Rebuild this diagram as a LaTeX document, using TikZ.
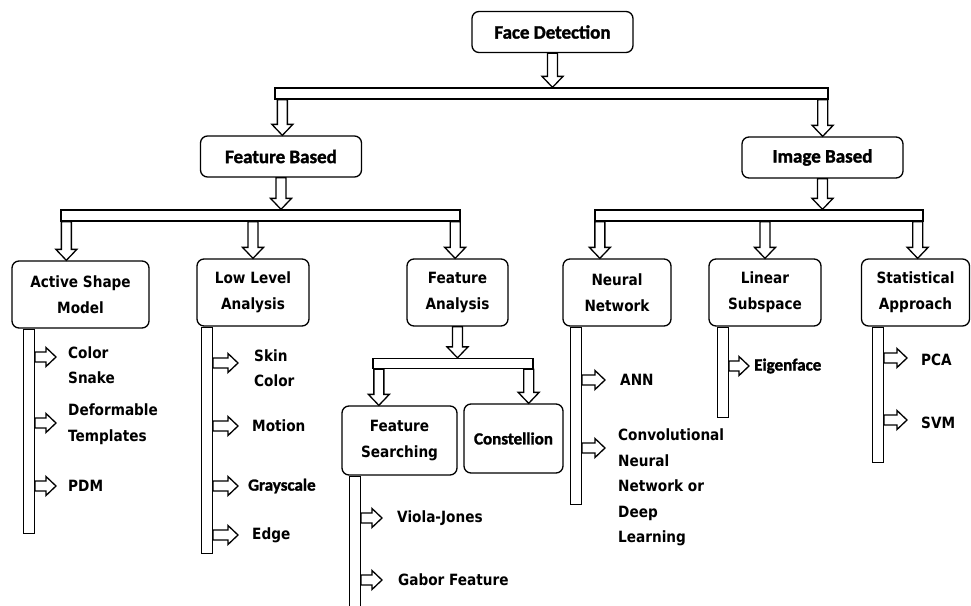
\documentclass[tikz,border=0pt]{standalone}
\usepackage{fontspec}
\newfontfamily\calb{Carlito}[BoldFeatures={FakeBold=1.6}]
\newfontfamily\tahb{DejaVu Sans}[FakeStretch=0.88]
\usetikzlibrary{calc}

\tikzset{
  box/.style={draw, line width=1.3pt, rounded corners=7pt, fill=white, align=center, inner sep=0pt},
  bigbox/.style={box, font=\calb\bfseries\fontsize{19}{26}\selectfont, minimum width=161pt, minimum height=41pt},
  subbox/.style={box, font=\tahb\bfseries\fontsize{15.5}{26}\selectfont, minimum height=67pt},
  hbar/.style={draw, line width=1.3pt, minimum height=11pt, inner sep=0pt},
  vbar/.style={draw, line width=1.3pt, minimum width=11pt, inner sep=0pt, anchor=north},
  item/.style={font=\tahb\bfseries\fontsize{15.5}{25.5}\selectfont, align=left, anchor=west, inner sep=0pt},
  citem/.style={item, font=\calb\bfseries\fontsize{17}{26}\selectfont},
  arrowshape/.style n args={3}{draw, line width=1.3pt, fill=white, to path={
    ($(\tikztostart)!#1!90:(\tikztotarget)$)
    -- ($(\tikztotarget)!#3!(\tikztostart)!#1!90:(\tikztotarget)$)
    -- ($(\tikztotarget)!#3!(\tikztostart)!#2!90:(\tikztotarget)$)
    -- (\tikztotarget)
    -- ($(\tikztotarget)!#3!(\tikztostart)!#2!-90:(\tikztotarget)$)
    -- ($(\tikztotarget)!#3!(\tikztostart)!#1!-90:(\tikztotarget)$)
    -- ($(\tikztostart)!#1!-90:(\tikztotarget)$) -- cycle}},
  blk/.style={arrowshape={5pt}{10.5pt}{11pt}},
  sblk/.style={arrowshape={5pt}{9.5pt}{10pt}}
}

\begin{document}
\begin{tikzpicture}[x=1pt, y=-1pt]
\useasboundingbox (0,0) rectangle (971,605);

% bars
\node[hbar, minimum width=553pt] (bar0) at (551.5,93.5) {};
\node[hbar, minimum width=399pt] (barL) at (260.5,215.5) {};
\node[hbar, minimum width=328pt] (barR) at (759,215.5) {};
\node[hbar, minimum width=160pt, minimum height=10pt] (barFA) at (453,363.5) {};

% boxes
\node[bigbox] (fd) at (552.5,32) {Face Detection};
\node[bigbox] (fb) at (281,156.5) {Feature Based};
\node[bigbox] (ib) at (822.5,157.5) {Image Based};
\node[subbox, minimum width=137pt] (asm) at (80.5,294.5) {Active Shape\\Model};
\node[subbox, minimum width=112pt] (lla) at (253,292.5) {Low Level\\Analysis};
\node[subbox, minimum width=101pt] (fa) at (457.5,292.5) {Feature\\Analysis};
\node[subbox, minimum width=108pt] (nn) at (617,292.5) {Neural\\Network};
\node[subbox, minimum width=112pt] (ls) at (765,292.5) {Linear\\Subspace};
\node[subbox, minimum width=108pt] (sa) at (915.5,292.5) {Statistical\\Approach};
\node[subbox, minimum width=115pt, minimum height=69pt] (fs) at (399.5,440.5) {Feature\\Searching};
\node[subbox, minimum width=99pt, minimum height=69pt, font=\calb\bfseries\fontsize{17}{26}\selectfont] (con) at (513.5,438.5) {Constellion};

% vertical bars
\node[vbar, minimum height=204pt] (asmbar) at ([xshift=17.5pt]asm.south west) {};
\node[vbar, minimum height=226pt] (llabar) at ([xshift=10.5pt]lla.south west) {};
\node[vbar, minimum height=135pt] (fsbar) at ([xshift=13.5pt]fs.south west) {};
\node[vbar, minimum height=177pt] (nnbar) at ([xshift=13.5pt]nn.south west) {};
\node[vbar, minimum height=90pt] (lsbar) at ([xshift=14.5pt]ls.south west) {};
\node[vbar, minimum height=135pt] (sabar) at ([xshift=17pt]sa.south west) {};

% arrow columns
\coordinate (c1) at ([xshift=8pt]bar0.south west);
\coordinate (c2) at ([xshift=-6pt]bar0.south east);
\coordinate (cL1) at ([xshift=6pt]barL.south west);
\coordinate (cL3) at ([xshift=-5.5pt]barL.south east);
\coordinate (cR1) at ([xshift=5.5pt]barR.south west);
\coordinate (cR3) at ([xshift=-6pt]barR.south east);
\coordinate (cF1) at ([xshift=6.5pt]barFA.south west);
\coordinate (cF2) at ([xshift=-5pt]barFA.south east);

\draw[blk] (fd.south) to (fd.south |- bar0.north);
\draw[blk] (c1) to (c1 |- fb.north);
\draw[blk] (c2) to (c2 |- ib.north);
\draw[blk] (fb.south) to (fb.south |- barL.north);
\draw[blk] (ib.south) to (ib.south |- barR.north);
\draw[blk] (cL1) to (cL1 |- asm.north);
\draw[blk] (barL.south -| lla.north) to (lla.north);
\draw[blk] (cL3) to (cL3 |- fa.north);
\draw[blk] (cR1) to (cR1 |- nn.north);
\draw[blk] (barR.south -| ls.north) to (ls.north);
\draw[blk] (cR3) to (cR3 |- sa.north);
\draw[blk] (fa.south) to (fa.south |- barFA.north);
\draw[blk] (cF1) to (cF1 |- fs.north);
\draw[blk] (cF2) to (cF2 |- con.north);

% items
\node[item] (cs) at (68,365) {Color\\Snake};
\node[item] (dt) at (68,424) {Deformable\\Templates};
\node[item] (pdm) at (68,486) {PDM};
\node[item] (sc) at (254,368) {Skin\\Color};
\node[item] (mo) at (252,426) {Motion};
\node[citem] (gs) at (248,486) {Grayscale};
\node[item] (ed) at (252,535) {Edge};
\node[item] (vj) at (397,518) {Viola-Jones};
\node[item] (gf) at (398,580) {Gabor Feature};
\node[item] (ann) at (620,380) {ANN};
\node[item] (cnn) at (618,487.5) {Convolutional\\Neural\\Network or\\Deep\\Learning};
\node[citem] (ef) at (754,366) {Eigenface};
\node[item] (pca) at (921,360) {PCA};
\node[item] (svm) at (921,423) {SVM};

\coordinate (t1) at (56,357);
\coordinate (t2) at (56,423);
\coordinate (t3) at (56,486);
\coordinate (t4) at (238,363);
\coordinate (t5) at (238,426);
\coordinate (t6) at (238,486);
\coordinate (t7) at (238,535);
\coordinate (t8) at (382,518);
\coordinate (t9) at (382,580);
\coordinate (t10) at (605,380);
\coordinate (t11) at (605,448);
\coordinate (t12) at (749,366);
\coordinate (t13) at (907,358);
\coordinate (t14) at (907,420);

\draw[sblk] (asmbar.east |- t1) to (t1);
\draw[sblk] (asmbar.east |- t2) to (t2);
\draw[sblk] (asmbar.east |- t3) to (t3);
\draw[sblk] (llabar.east |- t4) to (t4);
\draw[sblk] (llabar.east |- t5) to (t5);
\draw[sblk] (llabar.east |- t6) to (t6);
\draw[sblk] (llabar.east |- t7) to (t7);
\draw[sblk] (fsbar.east |- t8) to (t8);
\draw[sblk] (fsbar.east |- t9) to (t9);
\draw[sblk] (nnbar.east |- t10) to (t10);
\draw[sblk] (nnbar.east |- t11) to (t11);
\draw[sblk] (lsbar.east |- t12) to (t12);
\draw[sblk] (sabar.east |- t13) to (t13);
\draw[sblk] (sabar.east |- t14) to (t14);

\end{tikzpicture}
\end{document}
